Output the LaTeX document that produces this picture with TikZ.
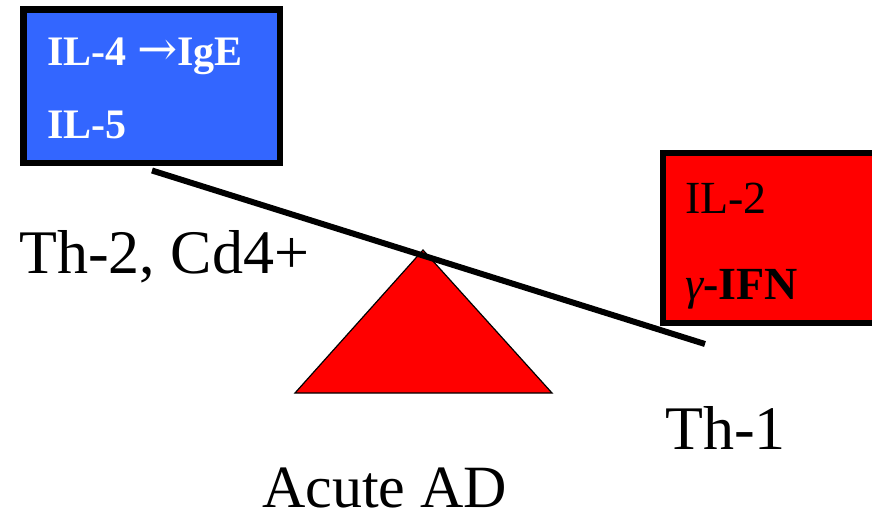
\documentclass[tikz,border=0pt]{standalone}
\usepackage{fontspec}
\setmainfont{Liberation Serif}
\newfontfamily\arrowfont{DejaVu Serif}
\definecolor{cytoblue}{HTML}{3366FF}
\definecolor{cytored}{HTML}{FF0000}
\tikzset{
  cytobox/.style={line width=6.5pt, draw=black},
  bluetext/.style={anchor=base west, inner sep=0pt, text=white, font=\fontsize{42}{42}\selectfont\bfseries},
  redtext/.style={anchor=base west, inner sep=0pt, text=black, font=\fontsize{46}{46}\selectfont},
  biglabel/.style={anchor=base west, inner sep=0pt, font=\fontsize{62}{62}\selectfont},
  beam/.style={line width=6pt, draw=black},
  fulcrum/.style={fill=cytored, draw=black, line width=1.2pt, line join=miter}
}
\begin{document}
\begin{tikzpicture}[x=1pt, y=-1pt]
  \useasboundingbox (0,0) rectangle (872,514);
  \clip (0,0) rectangle (872,514);

  % Th-2 cytokine box
  \filldraw[cytobox, fill=cytoblue] (23.25,9.25) rectangle (279.75,162.75);
  \node[bluetext] (il4) at (47,65) {IL-4 {\arrowfont\mdseries\fontsize{48}{48}\selectfont →}IgE};
  \node[bluetext] (il5) at (47,138) {IL-5};

  % Th-1 cytokine box, running past the right edge
  \filldraw[cytobox, fill=cytored] (663,153) rectangle (890,323);
  \node[redtext] (il2) at (685,213) {IL-2};
  \node[redtext] (ifn) at (685,299) {{\itshape γ}\bfseries -IFN};

  % Fulcrum and tilted beam
  \coordinate (apex) at (423,250);
  \coordinate (baseL) at (295,393);
  \coordinate (baseR) at (552,393);
  \filldraw[fulcrum] (apex) -- (baseL) -- (baseR) -- cycle;
  \coordinate (beamL) at (152,170.5);
  \coordinate (beamR) at (705,344);
  \draw[beam] (beamL) -- (beamR);

  % Labels
  \node[biglabel] (th2) at (19,273) {Th-2, Cd4+};
  \node[biglabel] (th1) at (665,449) {Th-1};
  \node[biglabel, font=\fontsize{60}{60}\selectfont] (acute) at (262,507) {Acute AD};
\end{tikzpicture}
\end{document}
